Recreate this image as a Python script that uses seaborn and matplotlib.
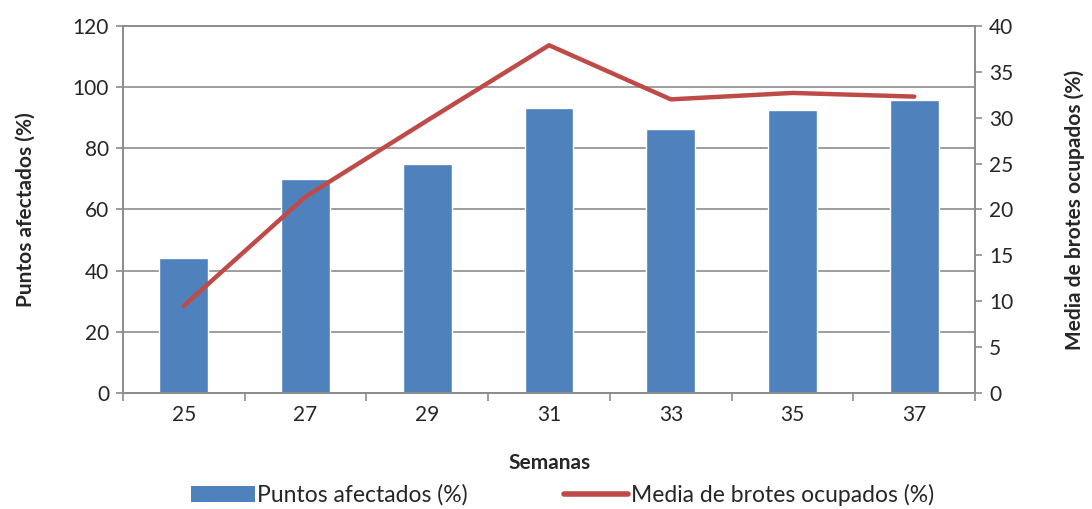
import pandas as pd
import matplotlib.pyplot as plt
import seaborn as sns
from matplotlib.patches import Patch
from matplotlib.lines import Line2D
from matplotlib.ticker import MultipleLocator, FixedLocator

# Data
semanas = ['25', '27', '29', '31', '33', '35', '37']
puntos_afectados = [44.2, 69.8, 74.8, 93.2, 86.2, 92.5, 95.7]
media_brotes = [9.5, 21.4, 29.7, 37.9, 32.0, 32.7, 32.3]

bar_color = '#4F81BD'
line_color = '#BE4B48'
grid_color = '#8C8C8C'

df = pd.DataFrame({'semana': semanas, 'puntos': puntos_afectados, 'brotes': media_brotes})

sns.set_theme(style='white')
plt.rcParams['font.family'] = ['Lato', 'DejaVu Sans']

fig = plt.figure(figsize=(10.92, 5.09), dpi=100)
ax = fig.add_axes([0.1126, 0.228, 0.7804, 0.721])

sns.barplot(data=df, x='semana', y='puntos', color=bar_color, width=0.4,
            saturation=1, ax=ax, zorder=2)
ax.set_ylim(0, 120)
ax.yaxis.set_major_locator(MultipleLocator(20))
ax.grid(axis='y', color=grid_color, linewidth=1.2, zorder=0)
ax.set_axisbelow(True)
ax.set_xlim(-0.5, len(semanas) - 0.5)

ax2 = ax.twinx()
sns.lineplot(data=df, x='semana', y='brotes', color=line_color, linewidth=3.2,
             ax=ax2, sort=False)
ax2.set_ylim(0, 40)
ax2.yaxis.set_major_locator(MultipleLocator(5))
ax2.set_xlim(-0.5, len(semanas) - 0.5)

# axis styling
for a in (ax, ax2):
    for s in a.spines.values():
        s.set_color(grid_color)
        s.set_linewidth(1.2)

ax.tick_params(axis='y', labelsize=15, length=5, color=grid_color, width=1.2,
               left=True, direction='out', pad=5)
ax2.tick_params(axis='y', labelsize=15, length=5, color=grid_color, width=1.2,
                right=True, direction='out', pad=5)
ax.tick_params(axis='x', labelsize=15, length=0, pad=9)
ax.xaxis.set_minor_locator(FixedLocator([i - 0.5 for i in range(len(semanas) + 1)]))
ax.tick_params(axis='x', which='minor', length=6, color=grid_color, width=1.2, bottom=True)
ax2.tick_params(axis='x', bottom=False, labelbottom=False)

ax.set_xlabel('Semanas', fontsize=15, fontweight='bold', labelpad=20)
ax.set_ylabel('Puntos afectados (%)', fontsize=15, fontweight='bold', labelpad=27)
ax2.set_ylabel('Media de brotes ocupados (%)', fontsize=15, fontweight='bold', labelpad=37)

handles = [Patch(facecolor=bar_color, edgecolor='none'),
           Line2D([0], [0], color=line_color, linewidth=4)]
fig.legend(handles, ['Puntos afectados (%)', 'Media de brotes ocupados (%)'],
           loc='center', bbox_to_anchor=(0.515, 0.028), ncol=2, frameon=False,
           fontsize=16.5, handlelength=2.8, handletextpad=0.1, columnspacing=4.2)

fig.savefig('out.png', dpi=100)
